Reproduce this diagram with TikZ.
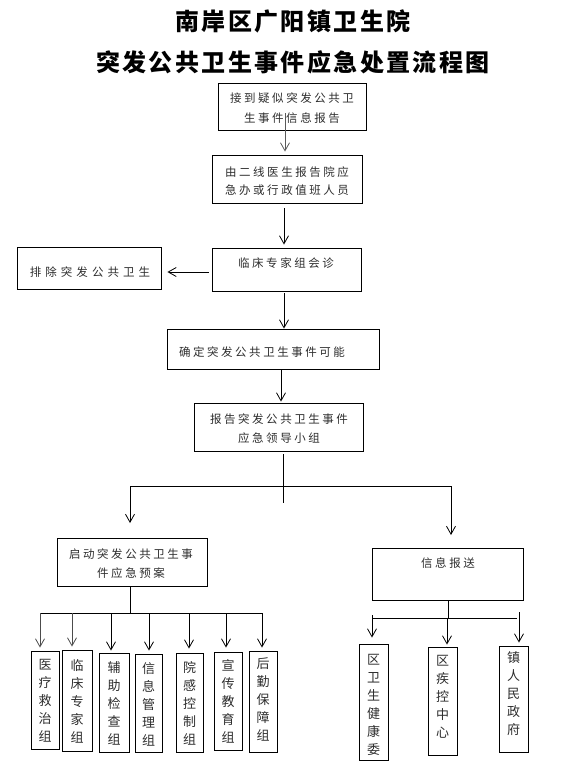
\documentclass[tikz,border=0pt]{standalone}
\usepackage{fontspec}
\usetikzlibrary{arrows.meta}
\newfontfamily\cjk{Noto Sans CJK SC}
\newfontfamily\cjkt[LetterSpace=10]{Noto Sans CJK SC}
\newfontfamily\cjks[LetterSpace=22]{Noto Sans CJK SC}
\newfontfamily\cjkw[LetterSpace=35]{Noto Sans CJK SC}
\definecolor{tc}{RGB}{45,45,45}
\begin{document}
\begin{tikzpicture}[x=1pt,y=-1pt,
  box/.style={draw, line width=0.9pt, inner sep=0pt},
  txt/.style={font=\cjks\fontsize{11.5}{19}\selectfont, align=center, inner sep=0pt, text=tc},
  vtxt/.style={font=\cjk\fontsize{13}{18}\selectfont, align=center, inner sep=0pt, text=tc},
  arr/.style={-{Straight Barb[length=8pt,width=9pt]}, line width=0.8pt},
  ln/.style={line width=0.8pt}]
\useasboundingbox (0,0) rectangle (575,772);
% title
\node[font=\cjkt\bfseries\fontsize{24}{41}\selectfont, align=center, inner sep=0pt] (title) at (293,41.5) {南岸区广阳镇卫生院\\突发公共卫生事件应急处置流程图};
% boxes
\node[box, minimum width=148pt, minimum height=47pt] (b1) at (292,106.5) {};
\node[box, minimum width=150pt, minimum height=48pt] (b2) at (287,179) {};
\node[box, minimum width=149pt, minimum height=43pt] (b3) at (286.5,269.5) {};
\node[box, minimum width=144pt, minimum height=42pt] (bL) at (89,268) {};
\node[box, minimum width=212pt, minimum height=40pt] (b4) at (273,349) {};
\node[box, minimum width=169pt, minimum height=48pt] (b5) at (278.5,427) {};
\node[box, minimum width=150pt, minimum height=48pt] (b6) at (132,562) {};
\node[box, minimum width=151pt, minimum height=52pt] (b7) at (447.5,574) {};
\node[box, minimum width=28pt, minimum height=98pt] (g1) at (45,700) {};
\node[box, minimum width=30pt, minimum height=101pt] (g2) at (77,700.5) {};
\node[box, minimum width=30pt, minimum height=99pt] (g3) at (114,702.5) {};
\node[box, minimum width=27pt, minimum height=98pt] (g4) at (148.5,703) {};
\node[box, minimum width=27pt, minimum height=99pt] (g5) at (189.5,702.5) {};
\node[box, minimum width=28pt, minimum height=98pt] (g6) at (228,701) {};
\node[box, minimum width=28pt, minimum height=101pt] (g7) at (263,701.5) {};
\node[box, minimum width=29pt, minimum height=116pt] (r1) at (373.5,702) {};
\node[box, minimum width=29pt, minimum height=108pt] (r2) at (442.5,701) {};
\node[box, minimum width=29pt, minimum height=106pt] (r3) at (513.5,699) {};
% texts
\node[txt, font=\cjks\fontsize{11.5}{20}\selectfont] (t1) at (292,108) {接到疑似突发公共卫\\生事件信息报告};
\node[txt, font=\cjks\fontsize{11.5}{18}\selectfont] (t2) at (287,181) {由二线医生报告院应\\急办或行政值班人员};
\node[txt] (t3) at (286,263) {临床专家组会诊};
\node[txt, font=\cjkw\fontsize{11.5}{19}\selectfont] (tL) at (90,272) {排除突发公共卫生};
\node[txt] (t4) at (262,352) {确定突发公共卫生事件可能};
\node[txt] (t5) at (279,428.5) {报告突发公共卫生事件\\应急领导小组};
\node[txt] (t6) at (131,563.5) {启动突发公共卫生事\\件应急预案};
\node[txt] (t7) at (448,563) {信息报送};
\node[vtxt] (v1) at (45,701) {医\\疗\\救\\治\\组};
\node[vtxt] (v2) at (77,701) {临\\床\\专\\家\\组};
\node[vtxt] (v3) at (114,703) {辅\\助\\检\\查\\组};
\node[vtxt] (v4) at (148.5,704) {信\\息\\管\\理\\组};
\node[vtxt] (v5) at (189.5,703) {院\\感\\控\\制\\组};
\node[vtxt] (v6) at (228,701) {宣\\传\\教\\育\\组};
\node[vtxt] (v7) at (263,699) {后\\勤\\保\\障\\组};
\node[vtxt] (w1) at (373.5,705) {区\\卫\\生\\健\\康\\委};
\node[vtxt] (w2) at (442.5,697) {区\\疾\\控\\中\\心};
\node[vtxt] (w3) at (513.5,694) {镇\\人\\民\\政\\府};
% connectors
\coordinate (c1) at (285,113);
\draw[arr, gray!70!black, shorten >=3pt] (c1) -- (c1 |- b2.north);
\coordinate (x2) at (284,0);
\draw[arr, shorten <=5pt, shorten >=3pt] (x2 |- b2.south) -- (x2 |- b3.north);
\coordinate (yL) at (0,272);
\draw[arr, shorten <=3pt, shorten >=6pt] (yL -| b3.west) -- (yL -| bL.east);
\coordinate (x4) at (284,0);
\draw[arr, shorten <=2pt] (x4 |- b3.south) -- (x4 |- b4.north);
\coordinate (x5) at (281,0);
\draw[arr, shorten <=1pt, shorten >=1pt] (x5 |- b4.south) -- (x5 |- b5.north);
% main branch
\coordinate (bt) at (283,503);
\draw[ln, shorten <=3pt] (bt |- b5.south) -- (bt);
\coordinate (jl) at (130,486);
\coordinate (jr) at (451,486);
\coordinate (el) at (130,523);
\coordinate (er) at (451,535);
\draw[ln] (jl) -- (jr);
\draw[arr] (jl) -- (el);
\draw[arr] (jr) -- (er);
% left bus
\coordinate (k) at (130,613);
\draw[ln] (k |- b6.south) -- (k);
\coordinate (kl) at (40,613);
\coordinate (kr) at (262,613);
\draw[ln] (kl) -- (kr);
\coordinate (k1) at (40,613);
\coordinate (k2) at (72,613);
\coordinate (k3) at (111,613);
\coordinate (k4) at (149,613);
\coordinate (k5) at (189,613);
\coordinate (k6) at (226,613);
\coordinate (k7) at (262,613);
\draw[arr, gray!60!black, shorten >=3pt] (k1) -- (k1 |- g1.north);
\draw[arr, gray!60!black, shorten >=3pt] (k2) -- (k2 |- g2.north);
\draw[arr, shorten >=2pt] (k3) -- (k3 |- g3.north);
\draw[arr, shorten >=3pt] (k4) -- (k4 |- g4.north);
\draw[arr, shorten >=4pt] (k5) -- (k5 |- g5.north);
\draw[arr, shorten >=4pt] (k6) -- (k6 |- g6.north);
\draw[arr, shorten >=3pt] (k7) -- (k7 |- g7.north);
% right bus
\coordinate (m) at (448,618);
\draw[ln] (m |- b7.south) -- (m);
\coordinate (ml) at (372,618);
\coordinate (mr) at (517,618);
\draw[ln] (ml) -- (mr);
\coordinate (m1) at (372,615);
\coordinate (m2) at (447,618);
\coordinate (m3) at (519,612);
\draw[arr, shorten >=6pt] (m1) -- (m1 |- r1.north);
\draw[arr, shorten >=2pt] (m2) -- (m2 |- r2.north);
\draw[arr, shorten >=3pt] (m3) -- (m3 |- r3.north);
\end{tikzpicture}
\end{document}
